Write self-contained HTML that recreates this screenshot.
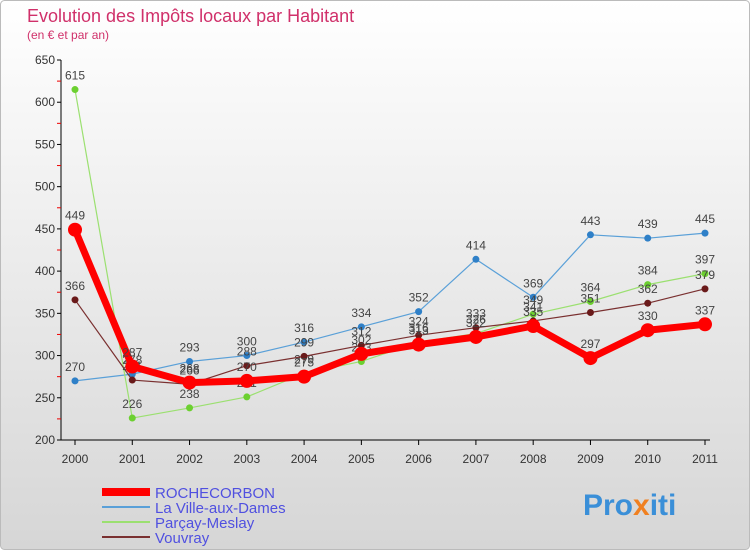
<!DOCTYPE html>
<html><head><meta charset="utf-8"><style>
body{margin:0}
svg text{font-family:"Liberation Sans",sans-serif}
</style></head><body>
<svg id="c" width="750" height="550" xmlns="http://www.w3.org/2000/svg">
<defs><linearGradient id="bg" x1="0" y1="0" x2="0" y2="1"><stop offset="0" stop-color="#ffffff"/><stop offset="1" stop-color="#d6d6d6"/></linearGradient></defs>
<rect x="0.5" y="0.5" width="749" height="549" rx="4" fill="url(#bg)" stroke="#bbb"/>
<text x="27" y="22" font-size="18" fill="#d0306a">Evolution des Impôts locaux par Habitant</text>
<text x="27" y="39" font-size="12" fill="#d0306a">(en € et par an)</text>
<g id="axes"></g><g id="series"></g><g id="legend"></g>
<text x="583" y="515" font-size="30" font-weight="bold" fill="#3a8fd8">Pro<tspan fill="#f08020">x</tspan><tspan fill="#3a8fd8">iti</tspan></text>
</svg>
<script>
const years=["2000","2001","2002","2003","2004","2005","2006","2007","2008","2009","2010","2011"];
const yTicks=[200,250,300,350,400,450,500,550,600,650];
const rochecorbon=[449,287,268,270,275,302,313,322,335,297,330,337];
const ville=[270,278,293,300,316,334,352,414,369,443,439,445];
const parcay=[615,226,238,251,279,293,316,326,349,364,384,397];
const vouvray=[366,271,266,288,299,312,324,333,341,351,362,379];
const NS="http://www.w3.org/2000/svg";
const X=i=>75+i*(630/11), Y=v=>440-(v-200)*(380/450);
function mk(t,a,p){const e=document.createElementNS(NS,t);for(const k in a)e.setAttribute(k,a[k]);p.appendChild(e);return e;}
const ax=document.getElementById('axes');
let l=mk('line',{x1:61,y1:60,x2:61,y2:440,stroke:'#000'},ax);
l=mk('line',{x1:61,y1:440,x2:710,y2:440,stroke:'#000'},ax);
yTicks.forEach(v=>{mk('line',{x1:57,y1:Y(v),x2:61,y2:Y(v),stroke:'#000'},ax);
 if(v<650)mk('line',{x1:57,y1:Y(v+25),x2:61,y2:Y(v+25),stroke:'#e00'},ax);
 const t=mk('text',{x:55,y:Y(v)+4,'font-size':12,'text-anchor':'end',fill:'#333'},ax);t.textContent=v;
 });
years.forEach((y,i)=>{mk('line',{x1:X(i),y1:440,x2:X(i),y2:445,stroke:'#000'},ax);
 const t=mk('text',{x:X(i),y:463,'font-size':12,'text-anchor':'middle',fill:'#333'},ax);t.textContent=y;
 });
const S=[{n:'ROCHECORBON',d:rochecorbon,c:'#f00',w:7,r:7,k:'rochecorbon'},
{n:'La Ville-aux-Dames',d:ville,c:'#5aa0d8',w:1.2,r:3.5,k:'ville-aux-dames',pc:'#2f80c8'},
{n:'Parçay-Meslay',d:parcay,c:'#9be070',w:1.2,r:3.5,k:'parcay-meslay',pc:'#6cd030'},
{n:'Vouvray',d:vouvray,c:'#7a3030',w:1.2,r:3.5,k:'vouvray',pc:'#6a1a1a'}];
const sg=document.getElementById('series');
[1,2,3,0].forEach(si=>{const s=S[si];const g=mk('g',{},sg);
 const p=mk('polyline',{points:s.d.map((v,i)=>X(i)+','+Y(v)).join(' '),fill:'none',stroke:s.c,'stroke-width':s.w,'stroke-linejoin':'round'},g);
 
 s.d.forEach((v,i)=>{const c=mk('circle',{cx:X(i),cy:Y(v),r:s.r,fill:s.pc||s.c},g);
  
  const t=mk('text',{x:X(i),y:Y(v)-10,'font-size':12,'text-anchor':'middle',fill:'#444'},g);t.textContent=v;
  });});
const lg=document.getElementById('legend');
S.forEach((s,i)=>{const y=492+i*15;const g=mk('g',{},lg);
 mk('line',{x1:102,y1:y,x2:150,y2:y,stroke:s.c,'stroke-width':i==0?8:2},g);
 const t=mk('text',{x:155,y:y+6,'font-size':15,fill:'#5050e0'},g);t.textContent=s.n;});
</script></body></html>
